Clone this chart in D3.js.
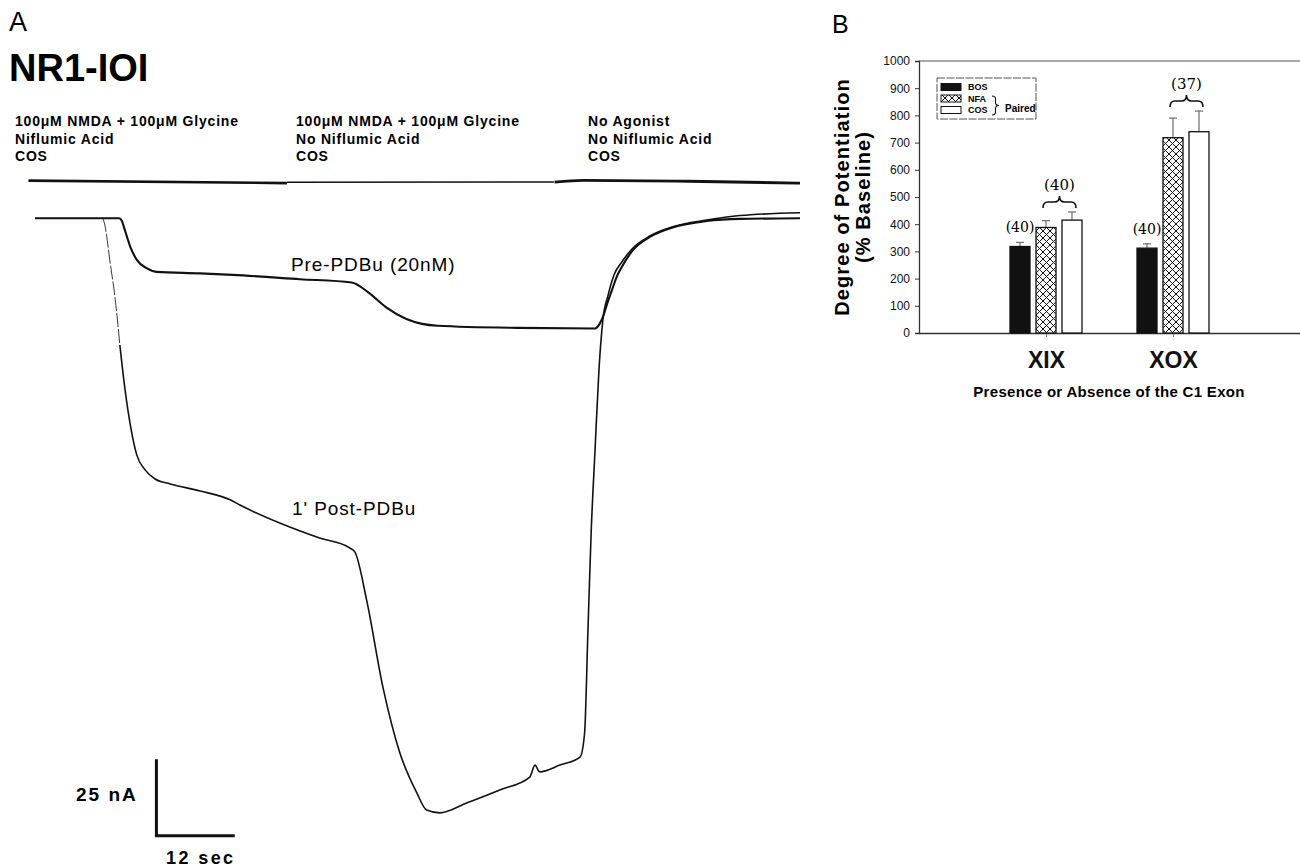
<!DOCTYPE html>
<html>
<head>
<meta charset="utf-8">
<script src="https://cdn.jsdelivr.net/npm/d3@7"></script>
<style>
  html, body { margin: 0; padding: 0; background: #fff; }
  svg { display: block; font-family: "Liberation Sans", Arial, sans-serif; }
</style>
</head>
<body>
<svg id="chart" width="1300" height="868"></svg>
<script>
// ---------- Panel A : whole-cell current traces (time in s, current in nA) ----------
const preTime = [0, 12.9, 13.3, 13.6, 14.6, 15.6, 17.1, 18.6, 25.3, 30.3, 40.6, 48.5, 51.0, 53.8, 56.9, 59.3, 61.7, 74.0, 85.8, 86.5, 87.0, 87.6, 88.4, 89.1, 89.9, 91.6, 94.2, 97.7, 102.9, 108.0, 117.2];
const preCurrent = [0, 0, -0.8, -2.7, -9.3, -13.6, -16.3, -17.5, -18.0, -18.5, -19.9, -21.0, -24.1, -29.1, -32.9, -34.5, -35.1, -35.8, -36.0, -34.5, -32.3, -28.3, -23.4, -19.2, -15.9, -10.4, -6.1, -3.0, -0.9, -0.2, 0];

const postTime = [0, 10.4, 10.7, 11.5, 12.3, 13.0, 13.8, 14.6, 15.6, 16.9, 18.4, 20.7, 25.3, 29.9, 31.4, 37.5, 43.6, 48.2, 49.0, 50.8, 53.3, 55.9, 58.5, 60.0, 62.0, 66.2, 71.2, 75.8, 76.6, 77.3, 80.4, 83.5, 84.2, 84.7, 85.2, 85.8, 86.4, 87.0, 87.8, 88.7, 89.9, 91.6, 94.2, 97.7, 102.9, 108.0, 117.2];
const postCurrent = [0, 0, -2.2, -14.3, -26.7, -41.4, -56.1, -67.5, -77.4, -82.3, -85.2, -86.8, -89.1, -92.0, -93.7, -99.6, -104.5, -107.7, -109.0, -124.7, -153.2, -174.7, -187.8, -193.4, -194.3, -191.0, -186.8, -182.6, -178.7, -180.9, -178.7, -176.1, -168.2, -135.6, -102.9, -75.7, -49.6, -33.2, -25.1, -18.5, -14.3, -9.7, -5.8, -2.8, -0.6, 0.9, 1.8];

// solution-exchange marker line (drawn on the same time / current scale)
const stimTimes = [[-1.0, 38.6], [38.6, 79.5], [79.6, 84.0, 100.0, 117.2]];
const stimLevels = [[12.3, 11.5], [11.8, 11.9], [11.8, 12.4, 12.1, 11.5]];
const stimWidths = [2.6, 1.5, 2.8];

const conditionLines = [
  ["100\u03bcM NMDA + 100\u03bcM Glycine", "Niflumic Acid", "COS"],
  ["100\u03bcM NMDA + 100\u03bcM Glycine", "No Niflumic Acid", "COS"],
  ["No Agonist", "No Niflumic Acid", "COS"]
];

const scaleBarSec = 12, scaleBarNA = 25;

// ---------- Panel B : potentiation bars ----------
const exons = ["XIX", "XOX"];
const seriesNames = ["BOS", "NFA", "COS"];
const bosMean = [318, 312], bosErr = [15, 16];
const nfaMean = [388, 718], nfaErr = [25, 72];
const cosMean = [415, 740], cosErr = [30, 76];
const bosN = ["(40)", "(40)"];
const pairedN = ["(40)", "(37)"];
const yTicks = d3.range(0, 1001, 100);

const svg = d3.select("#chart");

// ===== Panel A =====
const xA = d3.scaleLinear().domain([0, 117.2]).range([35, 800]);
const yA = d3.scaleLinear().domain([0, -25]).range([218.3, 294.8]);

svg.append("text").attr("x", 9).attr("y", 31).attr("font-size", 27).text("A");
svg.append("text").attr("x", 9).attr("y", 81).attr("font-size", 38).attr("font-weight", "bold").text("NR1-IOI");

const colX = [15, 296, 588];
conditionLines.forEach((lines, c) => {
  lines.forEach((s, i) => {
    svg.append("text")
      .attr("x", colX[c]).attr("y", 126 + i * 17.7)
      .attr("font-size", 14).attr("font-weight", "bold")
      .attr("letter-spacing", 0.8)
      .text(s);
  });
});

const lineA = d3.line().x(d => xA(d[0])).y(d => yA(d[1])).curve(d3.curveMonotoneX);

stimTimes.forEach((ts, k) => {
  svg.append("path")
    .attr("d", lineA(ts.map((t, i) => [t, stimLevels[k][i]])))
    .attr("fill", "none").attr("stroke", "#111").attr("stroke-width", stimWidths[k]);
});

const prePts = preTime.map((t, i) => [t, preCurrent[i]]);
const postPts = postTime.map((t, i) => [t, postCurrent[i]]);

// thin fast onset of the post-PDBu trace
svg.append("path")
  .attr("d", lineA(postPts.slice(1, 6)))
  .attr("fill", "none").attr("stroke", "#222").attr("stroke-width", 0.9)
  .attr("stroke-dasharray", "14,2");
svg.append("path")
  .attr("d", lineA(postPts.slice(5)))
  .attr("fill", "none").attr("stroke", "#111").attr("stroke-width", 1.6);
svg.append("path")
  .attr("d", lineA(prePts))
  .attr("fill", "none").attr("stroke", "#111").attr("stroke-width", 2.1);

svg.append("text").attr("x", 291).attr("y", 271).attr("font-size", 19)
  .attr("letter-spacing", 0.9).text("Pre-PDBu (20nM)");
svg.append("text").attr("x", 292).attr("y", 515).attr("font-size", 19)
  .attr("letter-spacing", 0.9).text("1' Post-PDBu");

// scale bar
const sbT = 18.6, sbI = -201.8;
svg.append("path")
  .attr("d", `M${xA(sbT)},${yA(sbI + scaleBarNA)} L${xA(sbT)},${yA(sbI)} L${xA(sbT + scaleBarSec)},${yA(sbI)}`)
  .attr("fill", "none").attr("stroke", "#111").attr("stroke-width", 3);
svg.append("text").attr("x", 76).attr("y", 801).attr("font-size", 19).attr("font-weight", "bold")
  .attr("letter-spacing", 2).text(`${scaleBarNA} nA`);
svg.append("text").attr("x", 166).attr("y", 864).attr("font-size", 18).attr("font-weight", "bold")
  .attr("letter-spacing", 2.4).text(`${scaleBarSec} sec`);

// ===== Panel B =====
const xB = d3.scaleLinear().domain([0, exons.length + 1]).range([919, 1300]);
const yB = d3.scaleLinear().domain([0, 1000]).range([333, 61]);

svg.append("text").attr("x", 832).attr("y", 33).attr("font-size", 25).text("B");

const defs = svg.append("defs");
const pat = defs.append("pattern").attr("id", "xhatch")
  .attr("patternUnits", "userSpaceOnUse").attr("width", 7).attr("height", 7);
pat.append("rect").attr("width", 7).attr("height", 7).attr("fill", "#fff");
pat.append("path").attr("d", "M0,0L7,7M7,0L0,7M-1,1L1,-1M6,8L8,6M-1,6L1,8M6,-1L8,1")
  .attr("stroke", "#111").attr("stroke-width", 1);

const fills = { BOS: "#111", NFA: "url(#xhatch)", COS: "#fff" };
const means = { BOS: bosMean, NFA: nfaMean, COS: cosMean };
const errs = { BOS: bosErr, NFA: nfaErr, COS: cosErr };

// frame top line
svg.append("line").attr("x1", 919).attr("x2", 1300).attr("y1", yB(1000)).attr("y2", yB(1000))
  .attr("stroke", "#555").attr("stroke-width", 1);

const yAxis = svg.append("g").attr("transform", "translate(919,0)")
  .call(d3.axisLeft(yB).tickValues(yTicks).tickFormat(d3.format("d")).tickSize(4).tickPadding(5));
yAxis.select(".domain").attr("stroke", "#333").attr("stroke-width", 1.3);
yAxis.selectAll(".tick line").attr("stroke", "#333");
yAxis.selectAll(".tick text").attr("font-size", 12).attr("fill", "#111")
  .attr("font-family", "Liberation Sans, Arial, sans-serif");

const xAxis = svg.append("g").attr("transform", `translate(0,${yB(0)})`)
  .call(d3.axisBottom(xB).tickValues(exons.map((_, i) => i + 1)).tickFormat((d) => exons[d - 1])
    .tickSize(4).tickPadding(15).tickSizeOuter(0));
xAxis.select(".domain").attr("stroke", "#333").attr("stroke-width", 1.3);
xAxis.selectAll(".tick line").attr("stroke", "#777");
xAxis.selectAll(".tick text").attr("font-size", 23).attr("font-weight", "bold").attr("fill", "#111")
  .attr("font-family", "Liberation Sans, Arial, sans-serif");

const barW = 20, barStep = 26;
seriesNames.forEach((s, j) => {
  exons.forEach((e, i) => {
    const cx = xB(i + 1) + (j - 1) * barStep;
    const top = yB(means[s][i] + errs[s][i]);
    // error bar (upper only)
    svg.append("line").attr("x1", cx).attr("x2", cx)
      .attr("y1", yB(means[s][i])).attr("y2", top)
      .attr("stroke", "#777").attr("stroke-width", 1.3);
    svg.append("line").attr("x1", cx - 4).attr("x2", cx + 4).attr("y1", top).attr("y2", top)
      .attr("stroke", "#777").attr("stroke-width", 1.3);
    svg.append("rect")
      .attr("x", cx - barW / 2).attr("y", yB(means[s][i]))
      .attr("width", barW).attr("height", yB(0) - yB(means[s][i]))
      .attr("fill", fills[s]).attr("stroke", "#111").attr("stroke-width", 1.3);
  });
});

const serif = "'DejaVu Serif', 'Liberation Serif', serif";
exons.forEach((e, i) => {
  const cx = xB(i + 1) - barStep;
  svg.append("text").attr("x", cx).attr("y", yB(bosMean[i] + bosErr[i]) - 10)
    .attr("text-anchor", "middle").attr("font-size", 14).attr("font-family", serif)
    .text(bosN[i]);
  // brace over the paired NFA / COS bars
  const x1 = xB(i + 1) - 3, x2 = xB(i + 1) + barStep + 4, xm = (x1 + x2) / 2;
  const topErr = Math.max(nfaMean[i] + nfaErr[i], cosMean[i] + cosErr[i]);
  const yb = yB(topErr) - 4, yt = yb - 12, ym = yb - 6, r = 5;
  svg.append("path")
    .attr("d", `M${x1},${yb} Q${x1},${ym} ${x1 + r},${ym} L${xm - r},${ym} Q${xm},${ym} ${xm},${yt} Q${xm},${ym} ${xm + r},${ym} L${x2 - r},${ym} Q${x2},${ym} ${x2},${yb}`)
    .attr("fill", "none").attr("stroke", "#111").attr("stroke-width", 1.6);
  svg.append("text").attr("x", xm).attr("y", yt - 6)
    .attr("text-anchor", "middle").attr("font-size", 15).attr("font-family", serif)
    .text(pairedN[i]);
});

// legend
const lg = svg.append("g");
lg.append("rect").attr("x", 937).attr("y", 78).attr("width", 99).attr("height", 41)
  .attr("fill", "#fff").attr("stroke", "#555").attr("stroke-width", 1).attr("stroke-dasharray", "8,1.5");
seriesNames.forEach((s, j) => {
  const cy = 87 + j * 11.5;
  lg.append("rect").attr("x", 941).attr("y", cy - 3.5).attr("width", 20).attr("height", 7)
    .attr("fill", fills[s]).attr("stroke", "#111").attr("stroke-width", 1);
  lg.append("text").attr("x", 968).attr("y", cy + 3.3).attr("font-size", 9).attr("font-weight", "bold")
    .text(s);
});
lg.append("path")
  .attr("d", "M992,96 Q995.5,96 995.5,99 L995.5,102.5 Q995.5,105.5 999,105.5 Q995.5,105.5 995.5,108.5 L995.5,112 Q995.5,115 992,115")
  .attr("fill", "none").attr("stroke", "#111").attr("stroke-width", 1.1);
lg.append("text").attr("x", 1005).attr("y", 112).attr("font-size", 10).attr("font-weight", "bold").text("Paired");

// axis titles
const yTitle = ["Degree of Potentiation", "(% Baseline)"];
yTitle.forEach((t, i) => {
  svg.append("text")
    .attr("transform", `translate(${842 + i * 21},197) rotate(-90)`)
    .attr("text-anchor", "middle").attr("dominant-baseline", "central")
    .attr("font-size", 20).attr("font-weight", "bold").attr("letter-spacing", 1.1)
    .text(t);
});
svg.append("text").attr("x", 1109).attr("y", 397).attr("text-anchor", "middle")
  .attr("font-size", 15).attr("font-weight", "bold").attr("letter-spacing", 0.3)
  .text("Presence or Absence of the C1 Exon");
</script>
</body>
</html>
